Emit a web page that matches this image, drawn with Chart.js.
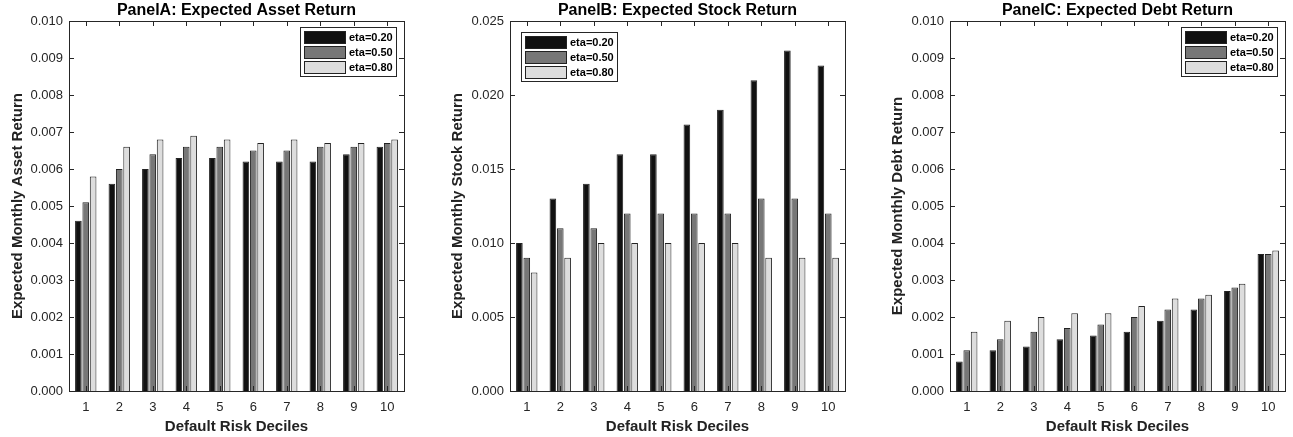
<!DOCTYPE html>
<html>
<head>
<meta charset="utf-8">
<script src="https://cdn.jsdelivr.net/npm/chart.js@4.4.1/dist/chart.umd.min.js"></script>
<style>
  html, body { margin: 0; padding: 0; background: #fff; }
  #wrap { position: relative; width: 1293px; height: 437px; }
  .panel { position: absolute; top: 0; height: 437px; }
</style>
</head>
<body>
<div id="wrap">
  <div class="panel" style="left:0;width:430px"><canvas id="cA"></canvas></div>
  <div class="panel" style="left:430px;width:430px"><canvas id="cB"></canvas></div>
  <div class="panel" style="left:860px;width:433px"><canvas id="cC"></canvas></div>
</div>
<script>
// deciles on the x axis
const deciles = ["1", "2", "3", "4", "5", "6", "7", "8", "9", "10"];
const etaLabels = ["eta=0.20", "eta=0.50", "eta=0.80"];

// Panel A: expected asset return
const assetEta20 = [0.0046, 0.0056, 0.0060, 0.0063, 0.0063, 0.0062, 0.0062, 0.0062, 0.0064, 0.0066];
const assetEta50 = [0.0051, 0.0060, 0.0064, 0.0066, 0.0066, 0.0065, 0.0065, 0.0066, 0.0066, 0.0067];
const assetEta80 = [0.0058, 0.0066, 0.0068, 0.0069, 0.0068, 0.0067, 0.0068, 0.0067, 0.0067, 0.0068];

// Panel B: expected stock return
const stockEta20 = [0.010, 0.013, 0.014, 0.016, 0.016, 0.018, 0.019, 0.021, 0.023, 0.022];
const stockEta50 = [0.009, 0.011, 0.011, 0.012, 0.012, 0.012, 0.012, 0.013, 0.013, 0.012];
const stockEta80 = [0.008, 0.009, 0.010, 0.010, 0.010, 0.010, 0.010, 0.009, 0.009, 0.009];

// Panel C: expected debt return
const debtEta20 = [0.0008, 0.0011, 0.0012, 0.0014, 0.0015, 0.0016, 0.0019, 0.0022, 0.0027, 0.0037];
const debtEta50 = [0.0011, 0.0014, 0.0016, 0.0017, 0.0018, 0.0020, 0.0022, 0.0025, 0.0028, 0.0037];
const debtEta80 = [0.0016, 0.0019, 0.0020, 0.0021, 0.0021, 0.0023, 0.0025, 0.0026, 0.0029, 0.0038];

const FONT = "'Liberation Sans', Arial, Helvetica, sans-serif";
const fills = ["#111111", "#777777", "#dddddd"];
const AXIS = "#262626";

// matlab-ish box, inward ticks, title and boxed legend
const matlabPlugin = {
  id: "matlabBox",
  afterDraw(chart, args, opts) {
    const { ctx, chartArea: a, scales: { x, y } } = chart;
    ctx.save();
    ctx.strokeStyle = AXIS;
    ctx.lineWidth = 1;
    ctx.strokeRect(Math.round(a.left) + 0.5, Math.round(a.top) + 0.5,
                   Math.round(a.right - a.left), Math.round(a.bottom - a.top));
    const tl = 5;
    ctx.beginPath();
    y.ticks.forEach(t => {
      const py = Math.round(y.getPixelForValue(t.value)) + 0.5;
      ctx.moveTo(a.left, py); ctx.lineTo(a.left + tl, py);
      ctx.moveTo(a.right, py); ctx.lineTo(a.right - tl, py);
    });
    x.ticks.forEach((t, i) => {
      const px = Math.round(x.getPixelForTick(i)) + 0.5;
      ctx.moveTo(px, a.top); ctx.lineTo(px, a.top + tl);
      ctx.moveTo(px, a.bottom); ctx.lineTo(px, a.bottom - tl);
    });
    ctx.stroke();

    // title centred on the axes
    ctx.fillStyle = "#000";
    ctx.font = "bold 16px " + FONT;
    ctx.textAlign = "center";
    ctx.textBaseline = "alphabetic";
    ctx.fillText(opts.title, (a.left + a.right) / 2, 14.5);

    // legend box
    const lw = 96, lh = 49;
    const lx = opts.legend === "left" ? a.left + 11 : a.right - 8 - lw;
    const ly = opts.legend === "left" ? a.top + 11 : a.top + 6;
    ctx.fillStyle = "#fff";
    ctx.fillRect(lx, ly, lw, lh);
    ctx.strokeStyle = AXIS;
    ctx.strokeRect(Math.round(lx) + 0.5, Math.round(ly) + 0.5, lw, lh);
    ctx.font = "bold 11px " + FONT;
    ctx.textAlign = "left";
    ctx.textBaseline = "middle";
    chart.data.datasets.forEach((ds, i) => {
      const cy = ly + 10 + i * 15;
      ctx.fillStyle = ds.backgroundColor;
      ctx.fillRect(lx + 4, cy - 6, 41, 12);
      ctx.strokeStyle = "#222";
      ctx.strokeRect(Math.round(lx + 4) + 0.5, Math.round(cy - 6) + 0.5, 41, 12);
      ctx.fillStyle = "#000";
      ctx.fillText(ds.label, lx + 49, cy + 1);
    });
    ctx.restore();
  }
};

function makePanel(id, title, yTitle, series, yMax, yStep, yWidth, padRight, titlePad, legendPos) {
  return new Chart(document.getElementById(id), {
    type: "bar",
    data: {
      labels: deciles,
      datasets: series.map((vals, i) => ({
        label: etaLabels[i],
        data: vals,
        backgroundColor: fills[i],
        borderColor: "#222",
        borderWidth: 1,
        categoryPercentage: 0.66,
        barPercentage: 0.9,
      }))
    },
    options: {
      responsive: true,
      maintainAspectRatio: false,
      animation: false,
      layout: { padding: { top: 21, right: padRight, left: 0, bottom: 0 } },
      plugins: {
        legend: { display: false },
        tooltip: { enabled: false },
        matlabBox: { title, legend: legendPos },
      },
      scales: {
        x: {
          grid: { display: false, drawTicks: false },
          border: { display: false },
          ticks: { color: AXIS, font: { family: FONT, size: 13 }, padding: 9, maxRotation: 0 },
          title: { display: true, text: "Default Risk Deciles", color: "#222",
                   font: { family: FONT, size: 15, weight: "bold" }, padding: { top: 0, bottom: 1 } },
          afterFit: s => { s.height = 46; },
        },
        y: {
          min: 0, max: yMax,
          grid: { display: false, drawTicks: false },
          border: { display: false },
          ticks: { stepSize: yStep, color: AXIS, font: { family: FONT, size: 13 }, padding: 6,
                   callback: v => v.toFixed(3) },
          title: { display: true, text: yTitle, color: "#222",
                   font: { family: FONT, size: 15, weight: "bold" }, padding: { top: titlePad, bottom: 0 } },
          afterFit: s => { s.width = yWidth; },
        }
      }
    },
    plugins: [matlabPlugin],
  });
}

makePanel("cA", "PanelA: Expected Asset Return", "Expected Monthly Asset Return",
          [assetEta20, assetEta50, assetEta80], 0.010, 0.001, 69, 26, 8.5, "right");
makePanel("cB", "PanelB: Expected Stock Return", "Expected Monthly Stock Return",
          [stockEta20, stockEta50, stockEta80], 0.025, 0.005, 80, 15, 18.5, "left");
makePanel("cC", "PanelC: Expected Debt Return", "Expected Monthly Debt Return",
          [debtEta20, debtEta50, debtEta80], 0.010, 0.001, 90, 8, 28.5, "right");
</script>
</body>
</html>
